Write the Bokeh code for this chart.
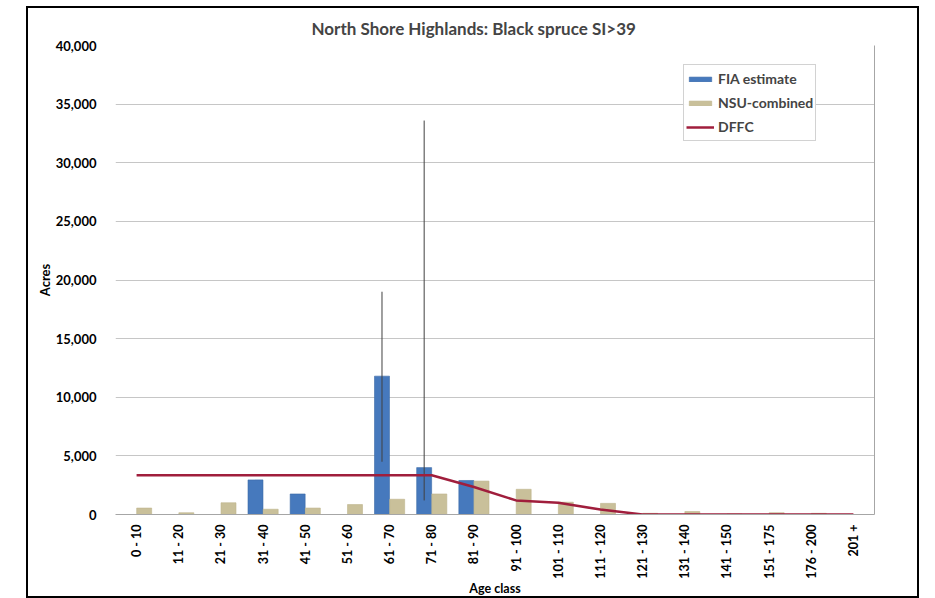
import math
from bokeh.plotting import figure
from bokeh.models import (FixedTicker, NumeralTickFormatter, Range1d, Legend, LegendItem,
                          LinearAxis, ColumnDataSource, Spacer)
from bokeh.layouts import row, column
from bokeh.embed import file_html
from bokeh.resources import INLINE

age_classes = ["0 - 10", "11 - 20", "21 - 30", "31 - 40", "41 - 50", "51 - 60", "61 - 70",
               "71 - 80", "81 - 90", "91 - 100", "101 - 110", "111 - 120", "121 - 130",
               "131 - 140", "141 - 150", "151 - 175", "176 - 200", "201 +"]
fia_estimate = [0, 0, 0, 2950, 1750, 0, 11800, 4000, 2900, 0, 0, 0, 0, 0, 0, 0, 0, 0]
fia_err_low = [None, None, None, None, None, None, 4500, 1200, None, None, None, None,
               None, None, None, None, None, None]
fia_err_high = [None, None, None, None, None, None, 19000, 33600, None, None, None, None,
                None, None, None, None, None, None]
nsu_combined = [550, 150, 1000, 450, 550, 850, 1300, 1750, 2850, 2150, 1050, 950,
                100, 250, 50, 150, 100, 0]
dffc = [3350, 3350, 3350, 3350, 3350, 3350, 3350, 3350, 2350, 1200, 1000, 420,
        0, 0, 0, 0, 0, 0]
y_ticks = [0, 5000, 10000, 15000, 20000, 25000, 30000, 35000, 40000]

FONT = "Lato"
xs = list(range(len(age_classes)))
bw = 0.355
off = 0.18

p = figure(width=893, height=592, output_backend="svg", toolbar_location=None,
           x_range=Range1d(-0.5, len(age_classes) - 0.5), y_range=Range1d(0, 40000),
           min_border_left=87, min_border_right=47, min_border_top=37, min_border_bottom=86)
p.styles = {"border": "2px solid black"}

src = ColumnDataSource(dict(x=xs, fia=fia_estimate, nsu=nsu_combined, dffc=dffc,
                            xf=[v - off for v in xs], xn=[v + off for v in xs]))
r_fia = p.vbar(x="xf", top="fia", width=bw, source=src, fill_color="#4679bd",
               line_color="#3a6aa6", line_width=0.6)
r_nsu = p.vbar(x="xn", top="nsu", width=bw, source=src, fill_color="#c9c09a",
               line_color="#bdb48c", line_width=0.6)

ex, e0, e1 = [], [], []
for i, (lo, hi) in enumerate(zip(fia_err_low, fia_err_high)):
    if lo is not None:
        ex.append(i - off); e0.append(lo); e1.append(hi)
p.segment(x0=ex, x1=ex, y0=e0, y1=e1, line_color="#404040", line_width=1)

r_dffc = p.line(x="x", y="dffc", source=src, line_color="#a01e3c", line_width=2.5)

# axes
p.xaxis.ticker = FixedTicker(ticks=xs)
p.xaxis.major_label_overrides = {i: lab for i, lab in enumerate(age_classes)}
p.xaxis.major_label_orientation = math.pi / 2
p.xaxis.axis_label = "Age class"
p.yaxis.ticker = FixedTicker(ticks=y_ticks)
p.yaxis.formatter = NumeralTickFormatter(format="0,0")
p.yaxis.axis_label = "Acres"
for ax in (p.xaxis[0], p.yaxis[0]):
    ax.major_label_text_font = FONT
    ax.major_label_text_font_style = "bold"
    ax.major_label_text_font_size = "13px"
    ax.major_label_text_color = "black"
    ax.axis_label_text_font = FONT
    ax.axis_label_text_font_style = "bold"
    ax.axis_label_text_font_size = "13px"
    ax.axis_label_text_color = "black"
    ax.major_tick_line_color = None
    ax.minor_tick_line_color = None
p.xaxis.major_label_text_font_size = "12.5px"
p.xaxis.axis_label_text_font_size = "12.5px"
p.yaxis.axis_line_color = None
p.yaxis.major_label_standoff = 13
p.yaxis.axis_label_standoff = 0
p.xaxis.axis_line_color = "#a6a6a6"
p.xaxis.major_label_standoff = 4
p.xaxis.axis_label_standoff = -1

rax = LinearAxis(ticker=FixedTicker(ticks=[]), major_tick_line_color=None,
                 minor_tick_line_color=None, axis_line_color="#a6a6a6")
p.add_layout(rax, "right")

p.xgrid.grid_line_color = None
p.ygrid.grid_line_color = "#c6c6c6"
p.ygrid.ticker = FixedTicker(ticks=y_ticks)
p.outline_line_color = None

p.title.text = "North Shore Highlands: Black spruce SI>39"
p.title.text_font = FONT
p.title.text_font_style = "bold"
p.title.text_font_size = "17px"
p.title.align = "left"
p.title.offset = 196
p.title.standoff = 13

legend = Legend(items=[LegendItem(label="FIA estimate", renderers=[r_fia]),
                       LegendItem(label="NSU-combined", renderers=[r_nsu]),
                       LegendItem(label="DFFC", renderers=[r_dffc])],
                location=(568, 373))
legend.label_text_font = FONT
legend.label_text_font_style = "bold"
legend.label_text_font_size = "14px"
legend.glyph_width = 28
legend.glyph_height = 6
legend.label_height = 23
legend.spacing = 1
legend.padding = 2
legend.margin = 0
legend.label_standoff = 4
legend.border_line_color = "#a6a6a6"
legend.border_line_width = 1
p.add_layout(legend)

layout = column(Spacer(height=6), row(Spacer(width=26), p))
open("out.html", "w").write(file_html(layout, INLINE))
